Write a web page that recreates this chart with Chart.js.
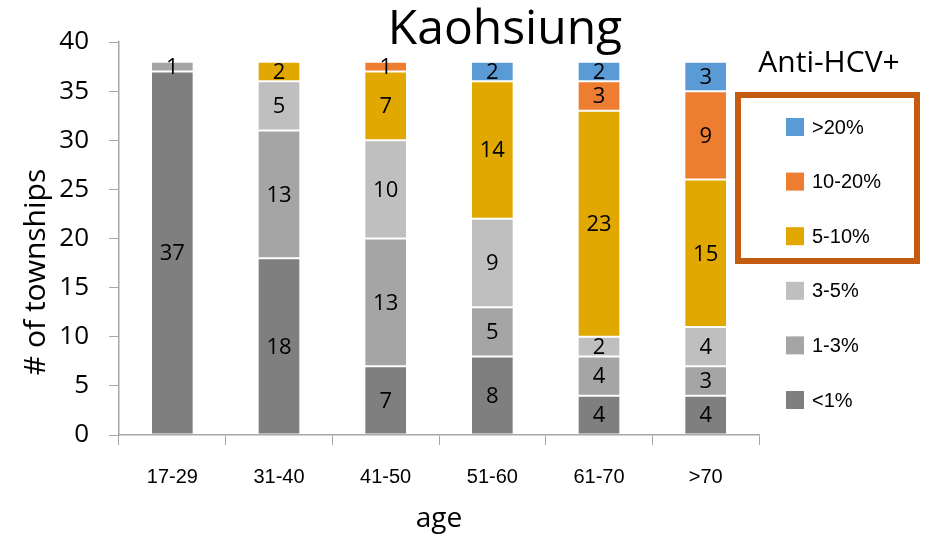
<!DOCTYPE html>
<html>
<head>
<meta charset="utf-8">
<script src="https://cdn.jsdelivr.net/npm/chart.js@4/dist/chart.umd.min.js"></script>
<style>
  html, body { margin: 0; padding: 0; background: #ffffff; }
  #wrap { width: 928px; height: 543px; position: relative; }
</style>
</head>
<body>
<div id="wrap"><canvas id="c" width="928" height="543"></canvas></div>
<script>
// Age groups on the x axis
const ageGroups = ['17-29', '31-40', '41-50', '51-60', '61-70', '>70'];

// Number of townships per anti-HCV+ prevalence band, for each age group
const lt1     = [37, 18, 7, 8, 4, 4];
const p1to3   = [1, 13, 13, 5, 4, 3];
const p3to5   = [0, 5, 10, 9, 2, 4];
const p5to10  = [0, 2, 7, 14, 23, 15];
const p10to20 = [0, 0, 1, 0, 3, 9];
const gt20    = [0, 0, 0, 2, 2, 3];

const bandLabels = ['<1%', '1-3%', '3-5%', '5-10%', '10-20%', '>20%'];
const bandColors = ['#7f7f7f', '#a5a5a5', '#bfbfbf', '#e0a800', '#ed7d31', '#5b9bd5'];
const bandValues = [lt1, p1to3, p3to5, p5to10, p10to20, gt20];

const yTicks = [0, 5, 10, 15, 20, 25, 30, 35, 40];

const sansFont = '"Open Sans", "Noto Sans", sans-serif';
const arialFont = '"Liberation Sans", Arial, sans-serif';

// Writes each segment's count in the middle of the segment
const segmentLabels = {
  id: 'segmentLabels',
  afterDatasetsDraw(chart) {
    const ctx = chart.ctx;
    ctx.save();
    ctx.font = '22px ' + sansFont;
    ctx.fillStyle = '#000000';
    ctx.textAlign = 'center';
    ctx.textBaseline = 'middle';
    chart.data.datasets.forEach((ds, di) => {
      const meta = chart.getDatasetMeta(di);
      meta.data.forEach((bar, i) => {
        const v = ds.data[i];
        if (!v) return;
        const p = bar.getProps(['x', 'y', 'base'], true);
        ctx.fillText(String(v), p.x, (p.y + p.base) / 2 + 1);
      });
    });
    ctx.restore();
  }
};

// Title, axis titles and the prevalence legend with its highlight frame
const decorations = {
  id: 'decorations',
  afterDraw(chart) {
    const ctx = chart.ctx;
    const area = chart.chartArea;
    ctx.save();
    ctx.fillStyle = '#000000';
    ctx.textAlign = 'center';
    ctx.textBaseline = 'middle';

    ctx.font = '48px ' + sansFont;
    ctx.fillText('Kaohsiung', 505, 30);

    ctx.font = '28px ' + sansFont;
    ctx.fillText('age', (area.left + area.right) / 2, 519);

    ctx.save();
    ctx.translate(36, 272);
    ctx.rotate(-Math.PI / 2);
    ctx.font = '30px ' + sansFont;
    ctx.fillText('# of townships', 0, 0);
    ctx.restore();

    // legend
    ctx.font = '30px ' + sansFont;
    ctx.fillText('Anti-HCV+', 829, 63);

    ctx.textAlign = 'left';
    ctx.font = '20px ' + arialFont;
    const rowTop = 127, rowGap = 54.6;
    for (let k = 0; k < bandLabels.length; k++) {
      const idx = bandLabels.length - 1 - k;
      const cy = rowTop + k * rowGap;
      ctx.fillStyle = bandColors[idx];
      ctx.fillRect(786, cy - 9, 18, 18);
      ctx.fillStyle = '#000000';
      ctx.fillText(bandLabels[idx], 812, cy + 1);
    }

    ctx.strokeStyle = '#c55a11';
    ctx.lineWidth = 6;
    ctx.strokeRect(738, 95, 179, 166);
    ctx.restore();
  }
};

const datasets = bandLabels.map((label, i) => ({
  label: label,
  data: bandValues[i],
  backgroundColor: bandColors[i],
  borderColor: 'rgba(255,255,255,0.25)',
  borderWidth: 1,
  borderSkipped: false,
  categoryPercentage: 1.0,
  barPercentage: 0.4
}));

new Chart(document.getElementById('c'), {
  type: 'bar',
  data: { labels: ageGroups, datasets: datasets },
  plugins: [segmentLabels, decorations],
  options: {
    responsive: false,
    animation: false,
    layout: { padding: { top: 42, right: 169, bottom: 0, left: 0 } },
    plugins: {
      legend: { display: false },
      title: { display: false },
      tooltip: { enabled: false }
    },
    scales: {
      x: {
        stacked: true,
        grid: { display: true, drawOnChartArea: false, drawTicks: true, tickLength: 10, color: '#a6a6a6', offset: true },
        border: { display: true, color: '#a6a6a6', width: 1.5 },
        ticks: { color: '#000000', font: { family: arialFont, size: 20 }, padding: 20, maxRotation: 0 },
        afterFit(scale) { scale.height = 108; }
      },
      y: {
        stacked: true,
        min: 0,
        max: 40,
        afterBuildTicks(scale) { scale.ticks = yTicks.map(v => ({ value: v })); },
        grid: { display: true, drawOnChartArea: false, drawTicks: true, tickLength: 10, color: '#a6a6a6' },
        border: { display: true, color: '#a6a6a6', width: 1.5 },
        ticks: { color: '#000000', font: { family: sansFont, size: 26 }, padding: 20 },
        afterFit(scale) { scale.width = 119; }
      }
    }
  }
});
</script>
</body>
</html>
